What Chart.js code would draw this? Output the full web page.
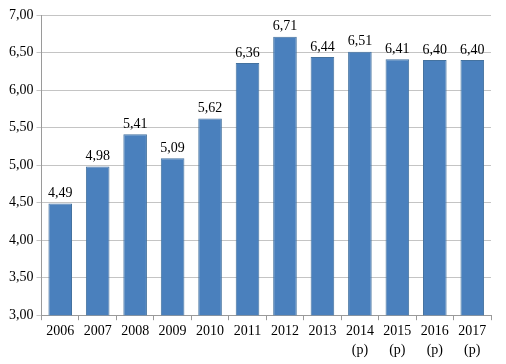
<!DOCTYPE html>
<html lang="pt">
<head>
    <meta charset="UTF-8">
    <title>Bar chart 2006-2017</title>
    <script src="https://cdn.jsdelivr.net/npm/chart.js"></script>
    <style>
        html, body { margin: 0; padding: 0; background: #fff; }
        #chartContainer { width: 506px; height: 364px; }
    </style>
</head>
<body>
    <div id="chartContainer">
        <canvas id="myChart"></canvas>
    </div>
    <script>
        const years = [['2006'], ['2007'], ['2008'], ['2009'], ['2010'], ['2011'], ['2012'], ['2013'],
            ['2014', '(p)'], ['2015', '(p)'], ['2016', '(p)'], ['2017', '(p)']];
        const values = [4.49, 4.98, 5.41, 5.09, 5.62, 6.36, 6.71, 6.44, 6.51, 6.41, 6.40, 6.40];

        const fmt = v => v.toFixed(2).replace('.', ',');
        const serif = '"Liberation Serif", serif';

        // value labels above each bar
        const barLabels = {
            id: 'barLabels',
            afterDatasetsDraw(chart) {
                const ctx = chart.ctx;
                ctx.save();
                ctx.font = '14px ' + serif;
                ctx.fillStyle = '#000';
                ctx.textAlign = 'center';
                ctx.textBaseline = 'bottom';
                chart.getDatasetMeta(0).data.forEach((bar, i) => {
                    ctx.fillText(fmt(values[i]), bar.x, bar.y - 3);
                });
                ctx.restore();
            }
        };

        const ctx = document.getElementById('myChart').getContext('2d');
        new Chart(ctx, {
            type: 'bar',
            data: {
                labels: years,
                datasets: [{
                    data: values,
                    backgroundColor: '#4a80bd',
                    borderColor: '#44729f',
                    borderWidth: 1,
                    barPercentage: 0.63,
                    categoryPercentage: 1
                }]
            },
            plugins: [barLabels],
            options: {
                responsive: true,
                maintainAspectRatio: false,
                animation: false,
                layout: { padding: { top: 15, right: 15, left: 6, bottom: 2 } },
                plugins: {
                    legend: { display: false },
                    tooltip: { enabled: false }
                },
                scales: {
                    x: {
                        grid: {
                            display: true,
                            drawOnChartArea: false,
                            offset: true,
                            tickLength: 5,
                            color: '#9a9a9a'
                        },
                        border: { color: '#9a9a9a' },
                        ticks: {
                            color: '#000',
                            font: { family: serif, size: 14, lineHeight: 1.35 },
                            maxRotation: 0,
                            padding: 2
                        }
                    },
                    y: {
                        min: 3,
                        max: 7,
                        grid: {
                            color: '#c4c4c4',
                            tickLength: 5
                        },
                        border: { color: '#9a9a9a' },
                        ticks: {
                            stepSize: 0.5,
                            color: '#000',
                            font: { family: serif, size: 14 },
                            padding: 3,
                            callback: v => fmt(v)
                        }
                    }
                }
            }
        });
    </script>
</body>
</html>
